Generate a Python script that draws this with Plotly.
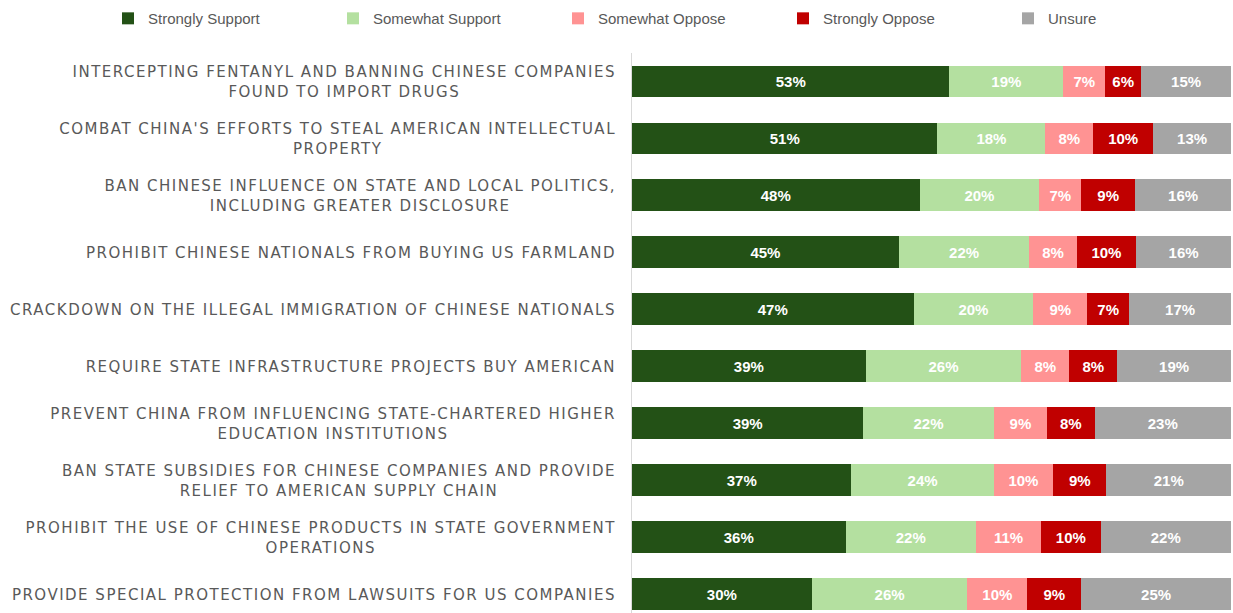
import plotly.graph_objects as go

categories = [
    "INTERCEPTING FENTANYL AND BANNING CHINESE COMPANIES<br>FOUND TO IMPORT DRUGS",
    "COMBAT CHINA'S EFFORTS TO STEAL AMERICAN INTELLECTUAL<br>PROPERTY",
    "BAN CHINESE INFLUENCE ON STATE AND LOCAL POLITICS,<br>INCLUDING GREATER DISCLOSURE",
    "PROHIBIT CHINESE NATIONALS FROM BUYING US FARMLAND",
    "CRACKDOWN ON THE ILLEGAL IMMIGRATION OF CHINESE NATIONALS",
    "REQUIRE STATE INFRASTRUCTURE PROJECTS BUY AMERICAN",
    "PREVENT CHINA FROM INFLUENCING STATE-CHARTERED HIGHER<br>EDUCATION INSTITUTIONS",
    "BAN STATE SUBSIDIES FOR CHINESE COMPANIES AND PROVIDE<br>RELIEF TO AMERICAN SUPPLY CHAIN",
    "PROHIBIT THE USE OF CHINESE PRODUCTS IN STATE GOVERNMENT<br>OPERATIONS",
    "PROVIDE SPECIAL PROTECTION FROM LAWSUITS FOR US COMPANIES",
]

strongly_support = [53, 51, 48, 45, 47, 39, 39, 37, 36, 30]
somewhat_support = [19, 18, 20, 22, 20, 26, 22, 24, 22, 26]
somewhat_oppose = [7, 8, 7, 8, 9, 8, 9, 10, 11, 10]
strongly_oppose = [6, 10, 9, 10, 7, 8, 8, 9, 10, 9]
unsure = [15, 13, 16, 16, 17, 19, 23, 21, 22, 25]

series_names = ["Strongly Support", "Somewhat Support", "Somewhat Oppose", "Strongly Oppose", "Unsure"]
series_values = [strongly_support, somewhat_support, somewhat_oppose, strongly_oppose, unsure]
colors = ["#235116", "#b4e0a0", "#ff9393", "#c00000", "#a5a5a5"]

fig = go.Figure()
for name, vals, col in zip(series_names, series_values, colors):
    fig.add_trace(go.Bar(
        y=categories, x=vals, name=name, orientation="h",
        marker=dict(color=col, line=dict(width=0)),
        text=[f"{v}%" for v in vals], texttemplate="%{text}",
        textposition="inside", insidetextanchor="middle",
        textfont=dict(color="white", size=15, family="Liberation Sans, Arial, sans-serif", weight="bold"),
        hoverinfo="skip",
    ))

for cat in categories:
    fig.add_annotation(
        x=0, xref="paper", y=cat, yref="y", text=cat,
        xanchor="right", yanchor="middle", align="center", xshift=-16, yshift=-1,
        showarrow=False,
        font=dict(family="DejaVu Sans, sans-serif", size=15, color="#595959"),
    )

fig.update_layout(
    barmode="stack", barnorm="percent", bargap=0.44,
    width=1233, height=613,
    margin=dict(l=632, r=2, t=53, b=0),
    paper_bgcolor="white", plot_bgcolor="white",
    legend=dict(
        orientation="h", x=-0.791, y=1.032, xanchor="left", yanchor="bottom",
        entrywidth=180, entrywidthmode="pixels",
        font=dict(family="Liberation Sans, Arial, sans-serif", size=15, color="#595959"),
        traceorder="normal", itemclick=False, itemdoubleclick=False,
    ),
    showlegend=True,
)
fig.update_xaxes(range=[0, 100], visible=False, fixedrange=True)
fig.update_yaxes(
    type="category", range=[9.33, -0.5], showticklabels=False,
    showline=True, linecolor="#d9d9d9", linewidth=1, showgrid=False, ticks="",
    fixedrange=True,
)

post = """
document.body.style.margin = '0';
document.body.style.overflow = 'hidden';
var gd = document.getElementById('{plot_id}');
var left = gd.getBoundingClientRect().left;
gd.querySelectorAll('.annotation-text').forEach(function(t) {
  t.style.letterSpacing = '1.5px';
  var r = t.getBoundingClientRect();
  var dx = (left + 616) - r.right;
  var tr = t.getAttribute('transform') || '';
  t.setAttribute('transform', tr + ' translate(' + dx + ',0)');
});
"""

fig.write_html("out.html", post_script=post, config={"displayModeBar": False})
